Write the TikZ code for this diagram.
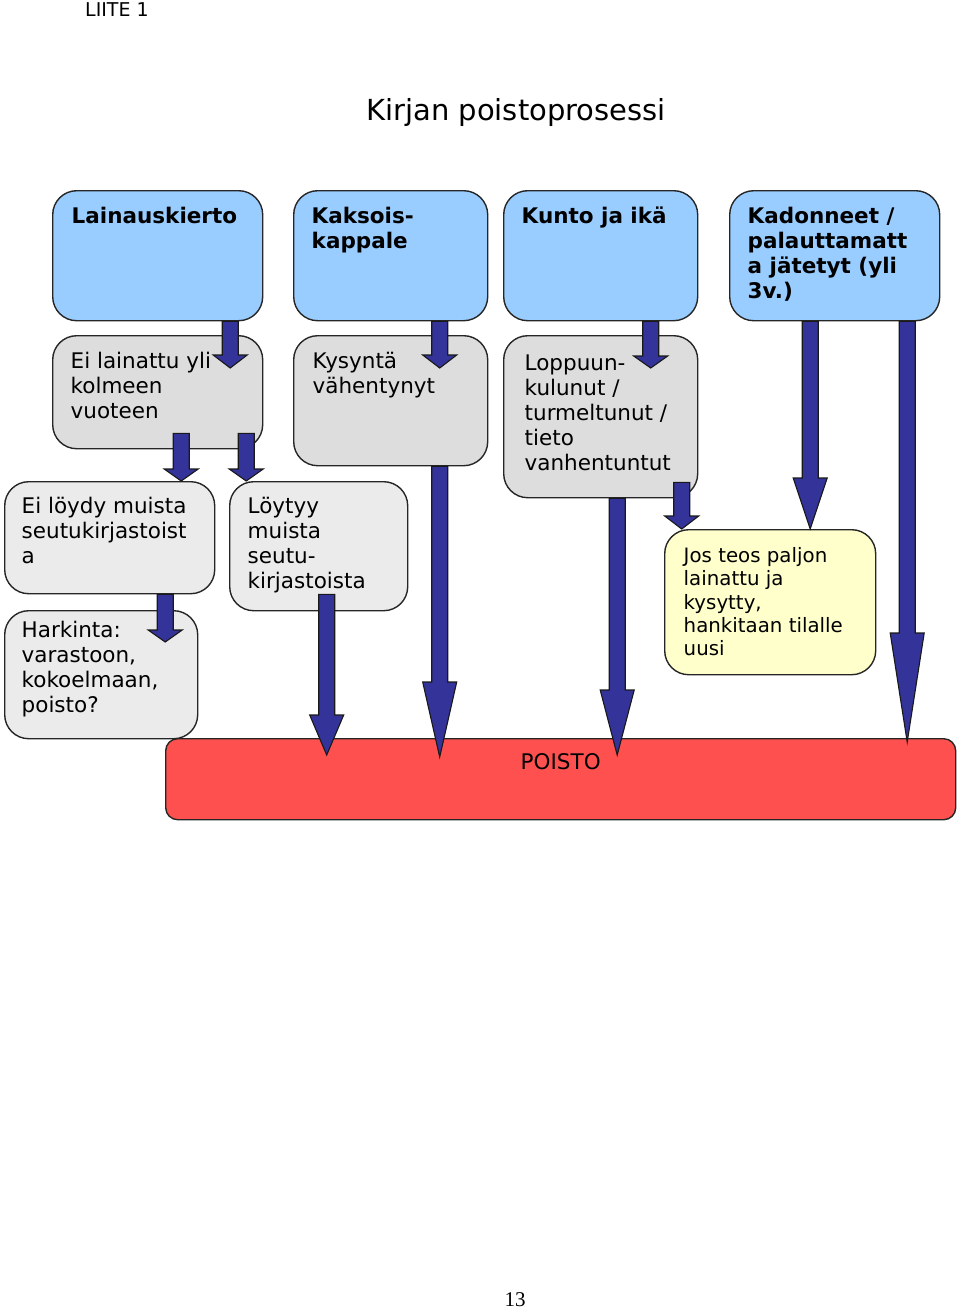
\documentclass[tikz,border=0pt]{standalone}
\usepackage{fontspec}
\setmainfont{DejaVu Sans}
\newfontfamily\pagefont{Liberation Serif}
\usetikzlibrary{shapes,positioning,calc}

\definecolor{headblue}{HTML}{99CCFF}
\definecolor{boxgray}{HTML}{DDDDDD}
\definecolor{palegray}{HTML}{EBEBEB}
\definecolor{noteyellow}{HTML}{FFFFCC}
\definecolor{poistored}{HTML}{FF5050}
\definecolor{arrowblue}{HTML}{333399}

% box content: width, height, left gap, first baseline, text
\newcommand\boxtext[5]{\hspace*{#3pt}\parbox[t][#2pt][t]{\dimexpr#1pt-#3pt\relax}{\raggedright\vspace*{\dimexpr#4pt-17pt\relax}\rule{0pt}{17pt}#5}}

% block arrow: head length, start, tip (x taken from start)
\newcommand\flowarrow[3]{%
  \draw[flowarr] let \p1=(#2), \p2=(#3) in
    (\x1-8pt,\y1) -- (\x1-8pt,\y2+#1pt) -- (\x1-17pt,\y2+#1pt) -- (\x1,\y2)
    -- (\x1+17pt,\y2+#1pt) -- (\x1+8pt,\y2+#1pt) -- (\x1+8pt,\y1) -- cycle;}

\begin{document}
\begin{tikzpicture}[
        x=1pt, y=-1pt,
        every node/.style={inner sep=0pt},
        box/.style={draw=black!85, line width=1.4pt, anchor=north west, rounded corners=24pt,
                    font=\fontsize{21.5}{25}\selectfont},
        headbox/.style={box, fill=headblue, font=\fontsize{21.5}{25}\selectfont\bfseries},
        critbox/.style={box, fill=boxgray},
        palebox/.style={box, fill=palegray},
        notebox/.style={box, fill=noteyellow, font=\fontsize{19.8}{23.2}\selectfont},
        poistobox/.style={box, fill=poistored, rounded corners=12pt},
        flowarr/.style={draw=black!90, line width=1.1pt, fill=arrowblue, line join=miter}
    ]
  \useasboundingbox (0,0) rectangle (960,1310);

  % Page texts
  \node[anchor=base west] (liite) at (85,16) {\fontsize{19}{21}\selectfont LIITE 1};
  \node[anchor=base] (title) at (516,120) {\fontsize{29}{34}\selectfont Kirjan poistoprosessi};
  \node[anchor=base] (pagenum) at (515,1306) {\pagefont\fontsize{21}{24}\selectfont 13};

  % Nodes
  \node[headbox] (lain) at (52,190) {\boxtext{210}{130}{19}{33}{Lainauskierto}};
  \node[headbox] (kaks) at (293,190) {\boxtext{194}{130}{18}{33}{Kaksois-\\kappale}};
  \node[headbox] (kunto) at (503,190) {\boxtext{194}{130}{18}{33}{Kunto ja ikä}};
  \node[headbox] (kadon) at (729,190) {\boxtext{210}{130}{18}{33}{Kadonneet /\\palauttamatt\\a jätetyt (yli\\3v.)}};

  \node[critbox] (eilain) at (52,335) {\boxtext{210}{113}{18}{33}{Ei lainattu yli\\kolmeen\\vuoteen}};
  \node[critbox] (kysy) at (293,335) {\boxtext{194}{130}{19}{33}{Kysyntä\\vähentynyt}};
  \node[critbox] (lopp) at (503,335) {\boxtext{194}{162}{21}{35}{Loppuun-\\kulunut /\\turmeltunut /\\tieto\\vanhentuntut}};

  \node[palebox] (eiloyd) at (4,481) {\boxtext{210}{112}{17}{32}{Ei löydy muista\\seutukirjastoist\\a}};
  \node[palebox] (loytyy) at (229,481) {\boxtext{178}{129}{18}{32}{Löytyy\\muista\\seutu-\\kirjastoista}};
  \node[palebox] (hark) at (4,610) {\boxtext{193}{128}{17}{27}{Harkinta:\\varastoon,\\kokoelmaan,\\poisto?}};

  \node[notebox] (jos) at (664,529) {\boxtext{211}{145}{19}{33}{Jos teos paljon\\lainattu ja\\kysytty,\\hankitaan tilalle\\uusi}};

  \node[poistobox] (poisto) at (165,738) {\parbox[t][81pt][t]{790pt}{\centering\vspace*{14pt}\rule{0pt}{17pt}POISTO}};

  % Arrows
  \flowarrow{13}{[xshift=72.5pt]lain.south}{[yshift=-33pt]eilain.north}
  \flowarrow{13}{[xshift=49pt]kaks.south}{[yshift=-33pt]kysy.north}
  \flowarrow{12}{[xshift=50pt]kunto.south}{[yshift=-33pt]lopp.north}
  \flowarrow{51}{[xshift=-24.5pt]kadon.south}{jos.north}
  \flowarrow{109}{[xshift=72.5pt]kadon.south}{[yshift=-4pt]poisto.north}
  \flowarrow{12}{[xshift=23.5pt,yshift=16pt]eilain.south}{eiloyd.north}
  \flowarrow{12}{[xshift=88.5pt,yshift=16pt]eilain.south}{loytyy.north}
  \flowarrow{75}{[xshift=49pt]kysy.south}{[yshift=-19pt]poisto.north}
  \flowarrow{13}{[xshift=81pt,yshift=16pt]lopp.south}{jos.north}
  \flowarrow{65}{[xshift=16.5pt]lopp.south}{[yshift=-17pt]poisto.north}
  \flowarrow{12}{[xshift=55.5pt]eiloyd.south}{[yshift=-32pt]hark.north}
  \flowarrow{40}{[xshift=8pt,yshift=17pt]loytyy.south}{[yshift=-17pt]poisto.north}
\end{tikzpicture}
\end{document}
